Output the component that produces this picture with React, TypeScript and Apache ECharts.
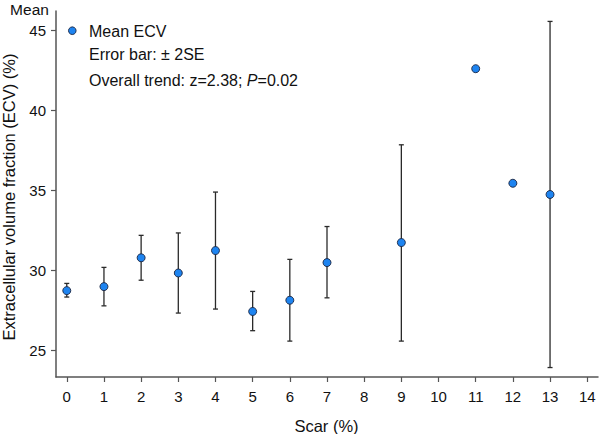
import React, { useEffect, useRef } from "react";
import * as echarts from "echarts";

const scarLevels = [0, 1, 2, 3, 4, 5, 6, 7, 9, 11, 12, 13];
const meanECV = [28.75, 29.0, 30.8, 29.85, 31.25, 27.45, 28.15, 30.5, 31.75, 42.6, 35.45, 34.75];
const lowerECV = [28.35, 27.8, 29.4, 27.35, 27.6, 26.25, 25.6, 28.3, 25.6, null, null, 23.95];
const upperECV = [29.2, 30.2, 32.2, 32.35, 34.9, 28.7, 30.7, 32.75, 37.85, null, null, 45.55];
const xTicks = [0, 1, 2, 3, 4, 5, 6, 7, 8, 9, 10, 11, 12, 13, 14];
const yTicks = [25, 30, 35, 40, 45];

const FONT = "'Liberation Sans', Arial, sans-serif";

export default function App() {
  const ref = useRef<HTMLDivElement>(null);

  useEffect(() => {
    if (!ref.current) return;
    const chart = echarts.init(ref.current, null, { renderer: "svg" });

    const scatterData = scarLevels.map((x, i) => [x, meanECV[i]]);
    const barData = scarLevels
      .map((x, i) => [x, lowerECV[i], upperECV[i]])
      .filter((d) => d[1] != null && d[2] != null);

    const axisColor = "#555555";

    chart.setOption({
      animation: false,
      backgroundColor: "#ffffff",
      textStyle: { fontFamily: FONT },
      grid: { left: 56, right: 2, top: 11, bottom: 57, containLabel: false },
      xAxis: {
        type: "value",
        min: -0.29,
        max: 14.29,
        splitLine: { show: false },
        axisLine: { show: true, onZero: false, lineStyle: { color: axisColor, width: 1.5 } },
        axisTick: { show: true, length: 5, customValues: xTicks, lineStyle: { color: axisColor, width: 1.2 } },
        axisLabel: {
          customValues: xTicks,
          margin: 12,
          fontSize: 15,
          color: "#111",
          fontFamily: FONT,
        },
      },
      yAxis: {
        type: "value",
        min: 23.36,
        max: 46.2,
        splitLine: { show: false },
        axisLine: { show: true, onZero: false, lineStyle: { color: axisColor, width: 1.5 } },
        axisTick: { show: true, length: 5, customValues: yTicks, lineStyle: { color: axisColor, width: 1.2 } },
        axisLabel: {
          customValues: yTicks,
          margin: 10,
          fontSize: 15,
          color: "#111",
          fontFamily: FONT,
        },
      },
      series: [
        {
          type: "custom",
          name: "Error bar",
          z: 2,
          encode: { x: 0, y: [1, 2] },
          data: barData,
          renderItem: (params: any, api: any) => {
            const x = api.value(0);
            const lo = api.coord([x, api.value(1)]);
            const hi = api.coord([x, api.value(2)]);
            const cap = 2.5;
            const style = { stroke: "#2a2a2a", lineWidth: 1.3 };
            return {
              type: "group",
              children: [
                { type: "line", shape: { x1: lo[0], y1: lo[1], x2: hi[0], y2: hi[1] }, style },
                { type: "line", shape: { x1: lo[0] - cap, y1: lo[1], x2: lo[0] + cap, y2: lo[1] }, style },
                { type: "line", shape: { x1: hi[0] - cap, y1: hi[1], x2: hi[0] + cap, y2: hi[1] }, style },
              ],
            };
          },
        },
        {
          type: "scatter",
          name: "Mean ECV",
          z: 3,
          symbol: "circle",
          symbolSize: 8,
          data: scatterData,
          itemStyle: { color: "#1E84F0", borderColor: "#1a2440", borderWidth: 0.9, opacity: 1 },
        },
      ],
      graphic: [
        {
          type: "text",
          x: 29.5,
          y: 9.5,
          style: { text: "Mean", font: `15.5px ${FONT}`, fill: "#111", align: "center", verticalAlign: "middle" },
        },
        {
          type: "text",
          x: 9,
          y: 197,
          rotation: Math.PI / 2,
          style: {
            text: "Extracellular volume fraction (ECV) (%)",
            font: `16.5px ${FONT}`,
            fill: "#111",
            align: "center",
            verticalAlign: "middle",
          },
        },
        {
          type: "text",
          x: 326.5,
          y: 426,
          style: {
            text: "Scar (%)",
            font: `16.5px ${FONT}`,
            fill: "#111",
            align: "center",
            verticalAlign: "middle",
          },
        },
        {
          type: "circle",
          shape: { cx: 72.3, cy: 30.7, r: 3.8 },
          style: { fill: "#1E84F0", stroke: "#1a2440", lineWidth: 0.9 },
        },
        {
          type: "text",
          x: 89,
          y: 31,
          style: { text: "Mean ECV", font: `16px ${FONT}`, fill: "#111", verticalAlign: "middle" },
        },
        {
          type: "text",
          x: 89,
          y: 54.5,
          style: { text: "Error bar: \u00b1 2SE", font: `16px ${FONT}`, fill: "#111", verticalAlign: "middle" },
        },
        {
          type: "text",
          x: 89,
          y: 80,
          style: {
            text: "Overall trend: z=2.38; {i|P}=0.02",
            font: `16px ${FONT}`,
            fill: "#111",
            verticalAlign: "middle",
            rich: {
              i: { fontStyle: "italic", fontSize: 16, fontFamily: FONT, fill: "#111" },
            },
          },
        },
      ],
    });

    return () => {
      chart.dispose();
    };
  }, []);

  return (
    <div
      ref={ref}
      style={{ position: "fixed", left: 0, top: 0, width: 600, height: 434, background: "#fff" }}
    />
  );
}
